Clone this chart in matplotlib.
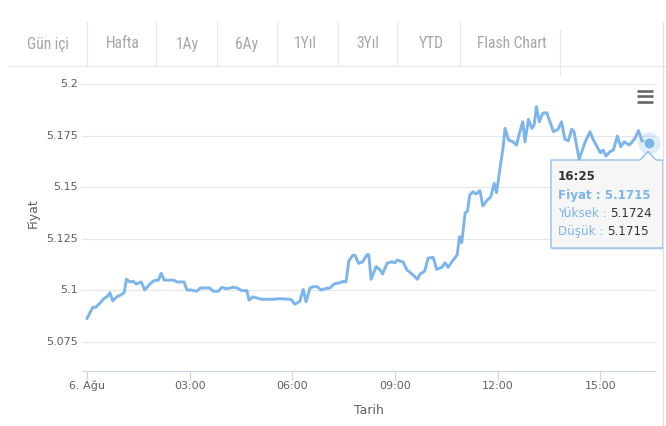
import matplotlib
matplotlib.use("Agg")
import matplotlib.pyplot as plt
from matplotlib.patches import Polygon
import warnings
warnings.filterwarnings("ignore")

# ---------------- data ----------------
times = [
    "00:00","00:10","00:15","00:22","00:30","00:35","00:40","00:45","00:52","00:59",
    "01:05","01:09","01:15","01:21","01:26","01:35","01:41","01:50","01:57","02:05",
    "02:10","02:15","02:31","02:38","02:50","02:55","03:03","03:12","03:19","03:35",
    "03:41","03:50","03:56","04:05","04:16","04:23","04:31","04:40","04:44","04:51",
    "04:58","05:06","05:15","05:26","05:38","05:56","05:59","06:04","06:13","06:19",
    "06:24","06:31","06:37","06:44","06:50","06:57","07:06","07:13","07:23","07:29",
    "07:34","07:39","07:46","07:50","07:56","08:03","08:11","08:14","08:18","08:27",
    "08:34","08:38","08:46","08:54","09:00","09:04","09:14","09:21","09:27","09:35",
    "09:39","09:44","09:52","09:58","10:07","10:13","10:22","10:28","10:33","10:42",
    "10:49","10:53","10:57","11:03","11:07","11:11","11:17","11:22","11:29","11:34",
    "11:41","11:48","11:54","11:58","12:05","12:09","12:13","12:19","12:27","12:33",
    "12:39","12:44","12:48","12:54","13:00","13:04","13:08","13:13","13:19","13:26",
    "13:38","13:46","13:52","13:58","14:04","14:10","14:14","14:23","14:33","14:42",
    "14:48","15:00","15:05","15:10","15:17","15:23","15:30","15:36","15:42","15:51",
    "16:01","16:07","16:13","16:25",
]
prices = [
    5.0865, 5.0918, 5.0918, 5.0937, 5.0962, 5.0969, 5.0989, 5.0949, 5.0969, 5.0978,
    5.0989, 5.1054, 5.1041, 5.1044, 5.1031, 5.1041, 5.1002, 5.1031, 5.1047, 5.1050,
    5.1083, 5.1050, 5.1050, 5.1041, 5.1041, 5.1002, 5.1002, 5.0996, 5.1012, 5.1012,
    5.0996, 5.0996, 5.1015, 5.1008, 5.1015, 5.1012, 5.0999, 5.0999, 5.0953, 5.0969,
    5.0963, 5.0957, 5.0957, 5.0957, 5.0960, 5.0957, 5.0953, 5.0933, 5.0947, 5.1005,
    5.0945, 5.1012, 5.1018, 5.1018, 5.1002, 5.1008, 5.1012, 5.1031, 5.1037, 5.1044,
    5.1041, 5.1144, 5.1170, 5.1170, 5.1131, 5.1138, 5.1173, 5.1173, 5.1054, 5.1115,
    5.1099, 5.1079, 5.1131, 5.1139, 5.1134, 5.1147, 5.1138, 5.1099, 5.1086, 5.1066,
    5.1054, 5.1079, 5.1093, 5.1156, 5.1160, 5.1102, 5.1112, 5.1134, 5.1112, 5.1147,
    5.1172, 5.1260, 5.1231, 5.1376, 5.1383, 5.1462, 5.1478, 5.1467, 5.1483, 5.1409,
    5.1435, 5.1454, 5.1519, 5.1473, 5.1608, 5.1680, 5.1785, 5.1729, 5.1720, 5.1704,
    5.1769, 5.1817, 5.1720, 5.1829, 5.1785, 5.1801, 5.1890, 5.1817, 5.1858, 5.1861,
    5.1769, 5.1781, 5.1817, 5.1732, 5.1725, 5.1781, 5.1769, 5.1635, 5.1716, 5.1769,
    5.1729, 5.1667, 5.1680, 5.1651, 5.1672, 5.1680, 5.1748, 5.1696, 5.1720, 5.1704,
    5.1737, 5.1774, 5.1725, 5.1715,
]
y_ticks = [5.075, 5.1, 5.125, 5.15, 5.175, 5.2]
y_tick_labels = ["5.075", "5.1", "5.125", "5.15", "5.175", "5.2"]
x_tick_times = ["00:00", "03:00", "06:00", "09:00", "12:00", "15:00"]
x_tick_labels = ["6. Ağu", "03:00", "06:00", "09:00", "12:00", "15:00"]
tabs = ["Gün içi", "Hafta", "1Ay", "6Ay", "1Yıl", "3Yıl", "YTD", "Flash Chart"]
tooltip_time = "16:25"
tooltip_high = "5.1724"
tooltip_low = "5.1715"
x_title = "Tarih"
y_title = "Fiyat"


def to_min(s):
    h, m = s.split(":")
    return int(h) * 60 + int(m)


xs = [to_min(t) for t in times]

W, H = 666, 426
fig = plt.figure(figsize=(W / 100, H / 100), dpi=100)
fig.patch.set_facecolor("white")

# main plot area (pixel geometry from reference)
L, R, T, B = 82, 655, 84, 370.5
ax = fig.add_axes([L / W, (H - B) / H, (R - L) / W, (B - T) / H])
ax.set_facecolor("none")

LINE = "#7cb5ec"
ax.plot(xs, prices, color=LINE, lw=2.1, solid_joinstyle="round", zorder=3)
ax.plot(xs[-1], prices[-1], "o", ms=16, color=LINE, alpha=0.25, mec="none", zorder=4, clip_on=False)
ax.plot(xs[-1], prices[-1], "o", ms=8, color=LINE, mec="white", mew=0.6, zorder=5, clip_on=False)

ax.set_xlim(-9, 996)
ax.set_ylim(5.0612, 5.2)
ax.set_yticks(y_ticks)
ax.set_yticklabels(y_tick_labels)
ax.set_xticks([to_min(t) for t in x_tick_times])
ax.set_xticklabels(x_tick_labels)
ax.grid(axis="y", color="#e6e6e6", lw=0.8)
ax.set_axisbelow(True)
for s in ["top", "right", "left"]:
    ax.spines[s].set_visible(False)
ax.spines["bottom"].set_color("#ccd6eb")
ax.spines["bottom"].set_linewidth(0.8)
ax.tick_params(axis="y", length=0, pad=3, labelsize=8, labelcolor="#606060")
ax.tick_params(axis="x", length=6.5, width=0.8, color="#ccd6eb", pad=1,
               labelsize=8, labelcolor="#606060")
for lab in ax.get_yticklabels():
    lab.set_verticalalignment("center")

# overlay in pixel coordinates for page chrome
ov = fig.add_axes([0, 0, 1, 1], zorder=10)
ov.set_xlim(0, W)
ov.set_ylim(H, 0)
ov.axis("off")
ov.patch.set_visible(False)

# axis titles
ov.text(368.5, 410, x_title, ha="center", va="center", fontsize=9, color="#606060")
ov.text(33.5, 213, y_title, ha="center", va="center", rotation=90, fontsize=9, color="#606060")

# tab bar
tab_cx = [47.7, 122.7, 187.7, 246.7, 305, 368, 431.3, 512]
seps = [86.7, 155.7, 216.7, 276.7, 338, 397.3, 460.3]
tab_font = ["Liberation Sans Narrow", "Roboto Condensed", "DejaVu Sans"]
for cx, t in zip(tab_cx, tabs):
    ov.text(cx, 44, t, ha="center", va="center", fontsize=11.2, color="#a6a6a6",
            family=tab_font)
for sx in seps:
    ov.plot([sx, sx], [22, 66], color="#e8e8e8", lw=0.8)
ov.plot([559.7, 559.7], [30, 75], color="#e8e8e8", lw=0.8)
ov.plot([10, W], [65.5, 65.5], color="#e8e8e8", lw=0.8)
ov.plot([663, 663], [22, H], color="#e0e0e0", lw=0.8)

# hamburger menu
for yy in [90.7, 96, 101.7]:
    ov.plot([636.5, 652.5], [yy, yy], color="#666666", lw=1.9, solid_capstyle="butt")

# tooltip callout
bx0, by0, bx1, by1 = 551, 160, 663, 248
shadow = Polygon([(bx0 + 1, by0 + 1), (bx1 + 1, by0 + 1), (bx1 + 1, by1 + 1.5), (bx0 + 1, by1 + 1.5)],
                 closed=True, fc="#000000", alpha=0.08, ec="none")
ov.add_patch(shadow)
callout = Polygon([(bx0, by0), (640, by0), (648, 151.5), (656, by0), (bx1, by0),
                   (bx1, by1), (bx0, by1)], closed=True, fc="#f7f7f7", alpha=0.95,
                  ec=LINE, lw=0.9, joinstyle="round")
ov.add_patch(callout)

tx = 558
ov.text(tx, 176.5, tooltip_time, fontsize=8.6, fontweight="bold", color="#333333", va="center")
ov.text(tx, 195, f"Fiyat : {prices[-1]:.4f}", fontsize=8.6, fontweight="bold", color=LINE, va="center")
t1 = ov.text(tx, 213.5, "Yüksek : ", fontsize=8.6, color=LINE, va="center")
ov.annotate(tooltip_high, xy=(1, 0.5), xycoords=t1, va="center", ha="left",
            fontsize=8.6, color="#333333")
t2 = ov.text(tx, 231.5, "Düşük : ", fontsize=8.6, color=LINE, va="center")
ov.annotate(tooltip_low, xy=(1, 0.5), xycoords=t2, va="center", ha="left",
            fontsize=8.6, color="#333333")

fig.savefig("out.png", dpi=100, facecolor="white")
